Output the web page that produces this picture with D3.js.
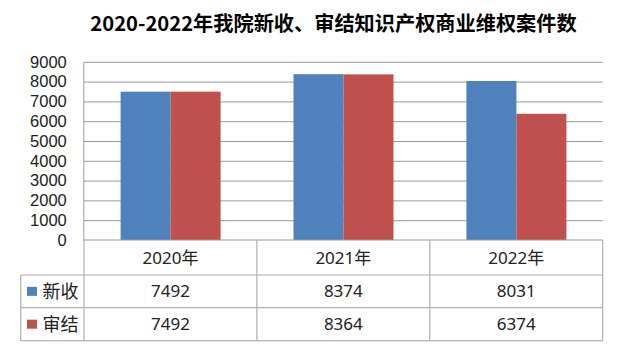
<!DOCTYPE html>
<html><head><meta charset="utf-8">
<script src="https://cdn.jsdelivr.net/npm/d3@7"></script>
<style>body{margin:0;background:#fff}svg{display:block}</style>
</head><body>
<script>
const categories = ["2020年", "2021年", "2022年"];
const seriesNames = ["新收", "审结"];
const xinshou = [7492, 8374, 8031];
const shenjie = [7492, 8364, 6374];
const yTicks = [0, 1000, 2000, 3000, 4000, 5000, 6000, 7000, 8000, 9000];
const colors = ["#4F81BD", "#C0504D"];
const title = "2020-2022年我院新收、审结知识产权商业维权案件数";

(function () {
const W = 628, H = 359;
const svg = d3.select("body").append("svg").attr("width", W).attr("height", H);
const pLeft = 84, pRight = 602.7, pTop = 61.8, base = 240;
const rowH = [240, 275, 307.7, 340.7];
const tableLeft = 20.7;
const font = "'Noto Sans','Noto Sans CJK SC',sans-serif";

svg.append("text").attr("x", 333.5).attr("y", 30.5).attr("text-anchor", "middle")
  .attr("font-family", "'Noto Sans CJK SC',sans-serif").attr("font-weight", "bold")
  .attr("font-size", 20.2).attr("fill", "#000").text(title);

const x = d3.scaleBand().domain(categories).range([pLeft, pRight]).padding(0);
const y = d3.scaleLinear().domain([0, 9000]).range([base, pTop]);
const x1 = d3.scaleBand().domain(seriesNames).range([36.6, 136.6]).padding(0);

// gridlines
const grid = svg.append("g").attr("transform", `translate(${pLeft},0)`)
  .call(d3.axisLeft(y).tickValues(yTicks.filter(t => t > 0)).tickSize(-(pRight - pLeft)).tickFormat(""));
grid.select(".domain").remove();
grid.selectAll("line").attr("stroke", "#9a9a9a").attr("stroke-width", 1);

// y axis labels
const ya = svg.append("g").attr("transform", `translate(${pLeft - 0.7},0)`)
  .call(d3.axisLeft(y).tickValues(yTicks).tickSize(0).tickPadding(16.5).tickFormat(d3.format("d")));
ya.select(".domain").attr("stroke", "#9a9a9a");
ya.selectAll("text").attr("font-family", "'Liberation Sans',Arial,sans-serif").attr("font-size", 16.5).attr("fill", "#222");

// bars
const data = categories.map((c, i) => ({ c, vals: [xinshou[i], shenjie[i]] }));
const groups = svg.append("g").selectAll("g").data(data).join("g")
  .attr("transform", d => `translate(${x(d.c)},0)`);
groups.selectAll("rect").data(d => d.vals.map((v, j) => ({ s: seriesNames[j], v, j })))
  .join("rect")
  .attr("x", d => x1(d.s)).attr("width", x1.bandwidth())
  .attr("y", d => y(d.v)).attr("height", d => base - y(d.v))
  .attr("fill", d => colors[d.j]);

// table
const tb = svg.append("g").attr("stroke", "#b0b0b0").attr("stroke-width", 1.2);
tb.append("line").attr("x1", pLeft).attr("x2", pRight).attr("y1", rowH[0]).attr("y2", rowH[0]).attr("stroke", "#9a9a9a");
for (let k = 1; k < rowH.length; k++)
  tb.append("line").attr("x1", tableLeft).attr("x2", pRight).attr("y1", rowH[k]).attr("y2", rowH[k]);
tb.append("line").attr("x1", tableLeft).attr("x2", tableLeft).attr("y1", rowH[1]).attr("y2", rowH[3]);
[pLeft, ...categories.map(c => x(c) + x.bandwidth())].forEach(xx =>
  tb.append("line").attr("x1", xx).attr("x2", xx).attr("y1", rowH[0]).attr("y2", rowH[3]));

// header
svg.append("g").selectAll("text").data(categories).join("text")
  .attr("x", d => x(d) + x.bandwidth() / 2).attr("y", (rowH[0] + rowH[1]) / 2 + 6)
  .attr("text-anchor", "middle").attr("font-family", font).attr("font-size", 17).attr("fill", "#222")
  .text(d => d);

const rows = [xinshou, shenjie];
rows.forEach((vals, r) => {
  const cy = (rowH[r + 1] + rowH[r + 2]) / 2;
  svg.append("rect").attr("x", 27).attr("y", cy - 4.5).attr("width", 10).attr("height", 9).attr("fill", colors[r]);
  svg.append("text").attr("x", 42.5).attr("y", cy + 6.5).attr("font-family", font)
    .attr("font-size", 18).attr("fill", "#222").text(seriesNames[r]);
  svg.append("g").selectAll("text").data(vals).join("text")
    .attr("x", (d, i) => x(categories[i]) + x.bandwidth() / 2).attr("y", cy + 6)
    .attr("text-anchor", "middle").attr("font-family", font).attr("font-size", 17).attr("fill", "#222")
    .text(d => d);
});
})();
</script>
</body></html>
